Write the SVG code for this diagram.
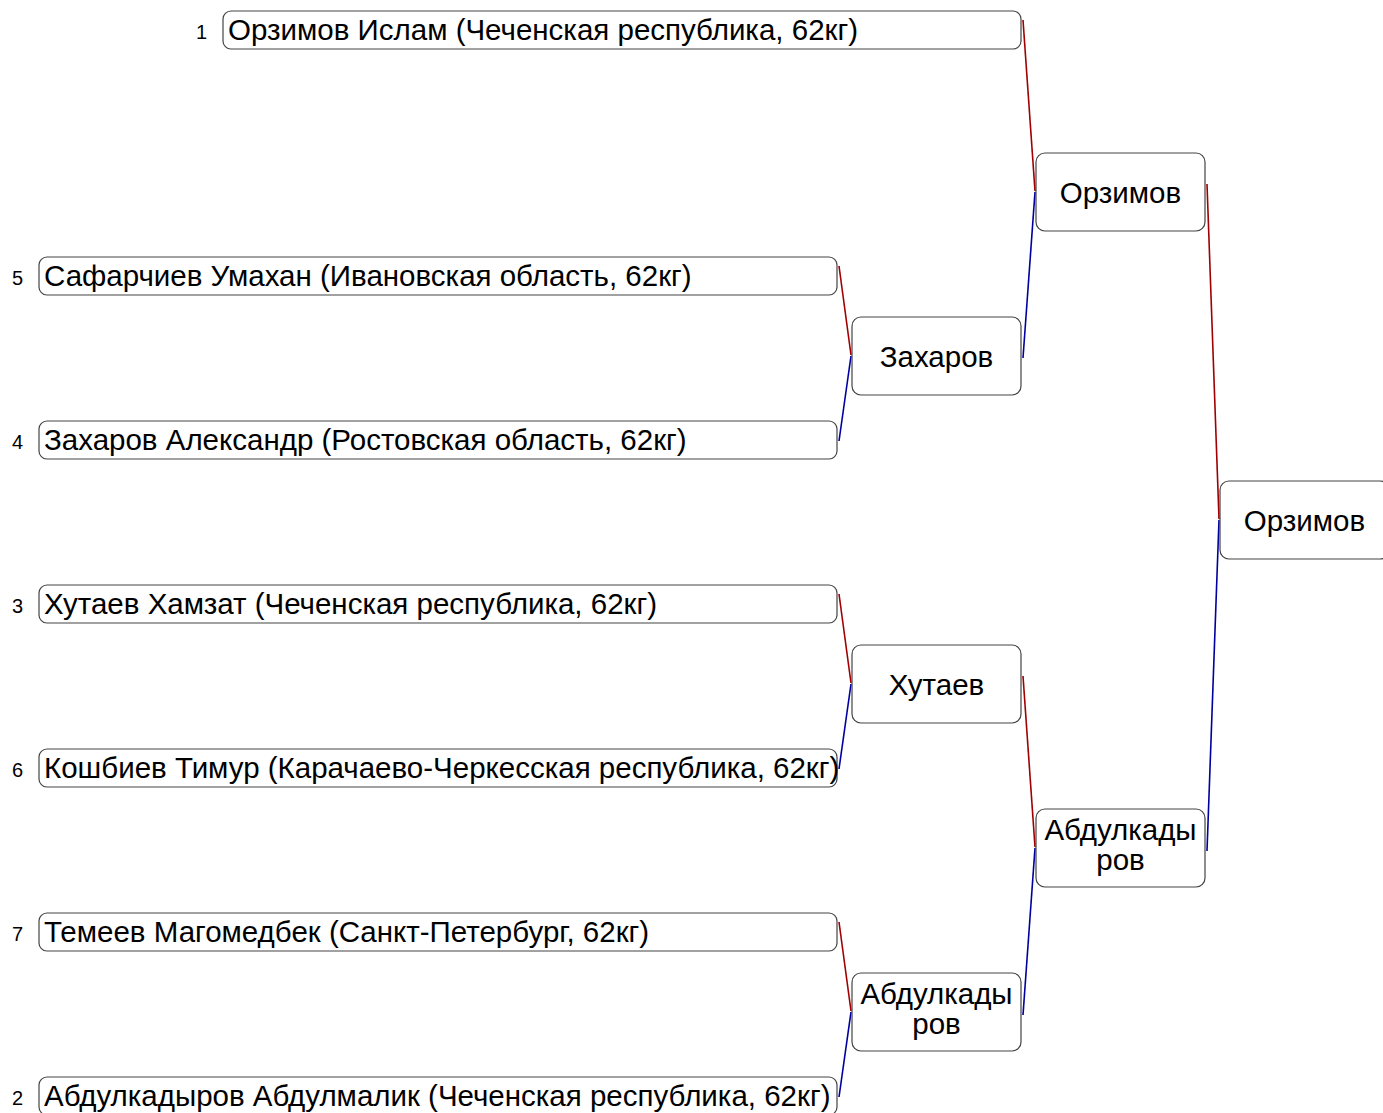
<svg xmlns="http://www.w3.org/2000/svg" width="1383" height="1113" viewBox="0 0 1383 1113">
<style>
.box{fill:#fff;stroke:#444;stroke-width:1.2}
.t{font-family:"Liberation Sans",Arial,sans-serif;font-size:29.5px;fill:#000}
.c{text-anchor:middle}
.n{font-family:"Liberation Sans",Arial,sans-serif;font-size:20px;fill:#000;text-anchor:end}
.r{stroke:#a00000;stroke-width:1.6;fill:none}
.b{stroke:#0000a0;stroke-width:1.6;fill:none}
</style>
<rect width="1383" height="1113" fill="#fff"/>
<g id="connectors">
<line class="r" x1="839" y1="266" x2="851" y2="355"/>
<line class="b" x1="851" y1="356" x2="839" y2="441"/>
<line class="r" x1="839" y1="594" x2="851" y2="683"/>
<line class="b" x1="851" y1="684" x2="839" y2="769"/>
<line class="r" x1="839" y1="922" x2="851" y2="1011"/>
<line class="b" x1="851" y1="1012" x2="839" y2="1097"/>
<line class="r" x1="1023" y1="20" x2="1035" y2="191"/>
<line class="b" x1="1035" y1="192" x2="1023" y2="358"/>
<line class="r" x1="1023" y1="676" x2="1035" y2="847"/>
<line class="b" x1="1035" y1="848" x2="1023" y2="1015"/>
<line class="r" x1="1207" y1="184" x2="1219" y2="519"/>
<line class="b" x1="1219" y1="520" x2="1207" y2="851"/>
</g>
<g id="e1"><text class="n" x="207" y="39">1</text><rect class="box" x="223" y="11" width="798" height="38" rx="8"/><text class="t" x="228" y="39.5">Орзимов Ислам (Чеченская республика, 62кг)</text></g>
<g id="e5"><text class="n" x="23" y="284.5">5</text><rect class="box" x="39" y="257" width="798" height="38" rx="8"/><text class="t" x="44" y="285.5">Сафарчиев Умахан (Ивановская область, 62кг)</text></g>
<g id="e4"><text class="n" x="23" y="448.5">4</text><rect class="box" x="39" y="421" width="798" height="38" rx="8"/><text class="t" x="44" y="449.5">Захаров Александр (Ростовская область, 62кг)</text></g>
<g id="e3"><text class="n" x="23" y="612.5">3</text><rect class="box" x="39" y="585" width="798" height="38" rx="8"/><text class="t" x="44" y="613.5">Хутаев Хамзат (Чеченская республика, 62кг)</text></g>
<g id="e6"><text class="n" x="23" y="776.5">6</text><rect class="box" x="39" y="749" width="798" height="38" rx="8"/><text class="t" x="44" y="777.5">Кошбиев Тимур (Карачаево-Черкесская республика, 62кг)</text></g>
<g id="e7"><text class="n" x="23" y="940.5">7</text><rect class="box" x="39" y="913" width="798" height="38" rx="8"/><text class="t" x="44" y="941.5">Темеев Магомедбек (Санкт-Петербург, 62кг)</text></g>
<g id="e2"><text class="n" x="23" y="1104.5">2</text><rect class="box" x="39" y="1077" width="798" height="38" rx="8"/><text class="t" x="44" y="1105.5">Абдулкадыров Абдулмалик (Чеченская республика, 62кг)</text></g>
<g id="r2a"><rect class="box" x="852" y="317" width="169" height="78" rx="9"/><text class="t c" x="936.5" y="367">Захаров</text></g>
<g id="r2b"><rect class="box" x="852" y="645" width="169" height="78" rx="9"/><text class="t c" x="936.5" y="695">Хутаев</text></g>
<g id="r2c"><rect class="box" x="852" y="973" width="169" height="78" rx="9"/><text class="t c" x="936.5" y="1003.5">Абдулкады</text><text class="t c" x="936.5" y="1033.5">ров</text></g>
<g id="r3a"><rect class="box" x="1036" y="153" width="169" height="78" rx="9"/><text class="t c" x="1120.5" y="203">Орзимов</text></g>
<g id="r3b"><rect class="box" x="1036" y="809" width="169" height="78" rx="9"/><text class="t c" x="1120.5" y="839.5">Абдулкады</text><text class="t c" x="1120.5" y="869.5">ров</text></g>
<g id="final"><rect class="box" x="1220" y="481" width="169" height="78" rx="9"/><text class="t c" x="1304.5" y="531">Орзимов</text></g>
</svg>
